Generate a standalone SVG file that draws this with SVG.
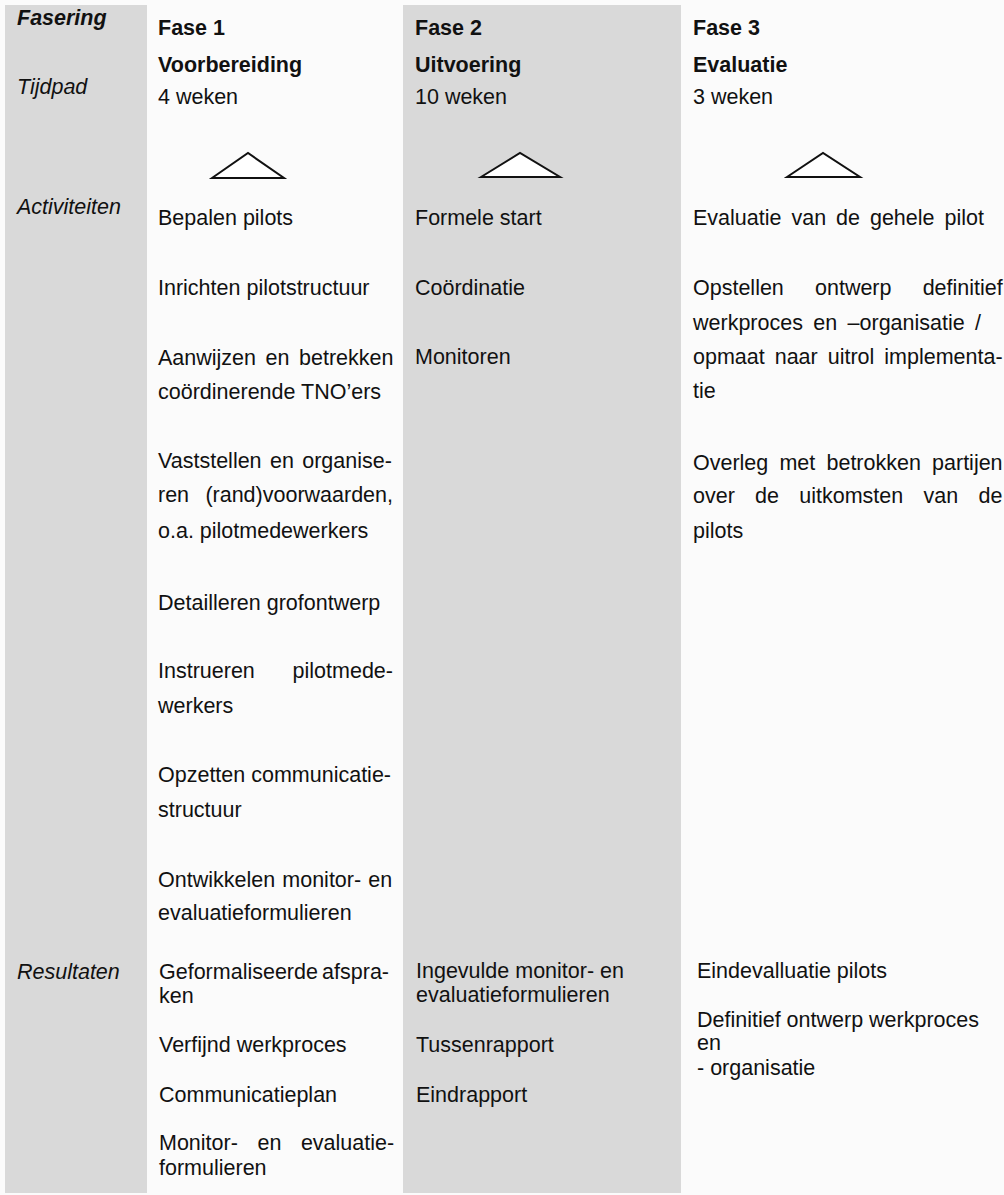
<svg xmlns="http://www.w3.org/2000/svg" width="1004" height="1195" viewBox="0 0 1004 1195">
  <style>
    text { font-family: "Liberation Sans", Arial, sans-serif; font-size: 21.5px; fill: #111111; }
    .b { font-weight: bold; }
    .i { font-style: italic; }
    .bi { font-style: italic; font-weight: bold; }
    .band { fill: #d9d9d9; }
    .tri { fill: #ffffff; stroke: #111111; stroke-width: 2; stroke-linejoin: miter; }
  </style>

  <!-- page and shaded column bands -->
  <rect x="0" y="0" width="1004" height="1195" fill="#fbfbfb"/>
  <rect class="band" x="5" y="5" width="142" height="1188"/>
  <rect class="band" x="403" y="5" width="278" height="1188"/>

  <!-- row labels -->
  <g id="labels">
    <text class="bi" x="17" y="25">Fasering</text>
    <text class="i" x="17" y="94">Tijdpad</text>
    <text class="i" x="17" y="214">Activiteiten</text>
    <text class="i" x="17" y="979">Resultaten</text>
  </g>

  <!-- phase 1 -->
  <g id="fase1">
    <g id="fase1-head">
      <text class="b" x="158" y="35">Fase 1</text>
      <text class="b" x="158" y="72">Voorbereiding</text>
      <text x="158" y="104">4 weken</text>
      <polygon class="tri" points="212,178 248,153 284,178"/>
    </g>
    <g id="fase1-activiteiten">
      <text x="158" y="225">Bepalen pilots</text>
      <text x="158" y="295">Inrichten pilotstructuur</text>
      <text x="158" y="365" word-spacing="3.6">Aanwijzen en betrekken</text>
      <text x="158" y="399">coördinerende TNO’ers</text>
      <text x="158" y="468" word-spacing="2.4">Vaststellen en organise-</text>
      <text x="158" y="502">ren</text>
      <text x="393" y="502" text-anchor="end">(rand)voorwaarden,</text>
      <text x="158" y="538">o.a. pilotmedewerkers</text>
      <text x="158" y="610">Detailleren grofontwerp</text>
      <text x="158" y="678">Instrueren</text>
      <text x="393" y="678" text-anchor="end">pilotmede-</text>
      <text x="158" y="713">werkers</text>
      <text x="158" y="782">Opzetten</text>
      <text x="391" y="782" text-anchor="end">communicatie-</text>
      <text x="158" y="817">structuur</text>
      <text x="158" y="887" word-spacing="1.2">Ontwikkelen monitor- en</text>
      <text x="158" y="920">evaluatieformulieren</text>
    </g>
    <g id="fase1-resultaten">
      <text x="159" y="979">Geformaliseerde</text>
      <text x="389" y="979" text-anchor="end">afspra-</text>
      <text x="159" y="1003">ken</text>
      <text x="159" y="1052">Verfijnd werkproces</text>
      <text x="159" y="1102">Communicatieplan</text>
      <text x="159" y="1150" word-spacing="13.6">Monitor- en evaluatie-</text>
      <text x="159" y="1175">formulieren</text>
    </g>
  </g>

  <!-- phase 2 -->
  <g id="fase2">
    <g id="fase2-head">
      <text class="b" x="415" y="35">Fase 2</text>
      <text class="b" x="415" y="72">Uitvoering</text>
      <text x="415" y="104">10 weken</text>
      <polygon class="tri" points="481,177 520,153 560,177"/>
    </g>
    <g id="fase2-activiteiten">
      <text x="415" y="225">Formele start</text>
      <text x="415" y="295">Coördinatie</text>
      <text x="415" y="364">Monitoren</text>
    </g>
    <g id="fase2-resultaten">
      <text x="416" y="978">Ingevulde monitor- en</text>
      <text x="416" y="1002">evaluatieformulieren</text>
      <text x="416" y="1052">Tussenrapport</text>
      <text x="416" y="1102">Eindrapport</text>
    </g>
  </g>

  <!-- phase 3 -->
  <g id="fase3">
    <g id="fase3-head">
      <text class="b" x="693" y="35">Fase 3</text>
      <text class="b" x="693" y="72">Evaluatie</text>
      <text x="693" y="104">3 weken</text>
      <polygon class="tri" points="787,177 823,153 860,177"/>
    </g>
    <g id="fase3-activiteiten">
      <text x="693" y="225" word-spacing="4">Evaluatie van de gehele pilot</text>
      <text x="693" y="295" word-spacing="25.2">Opstellen ontwerp definitief</text>
      <text x="693" y="330" word-spacing="4.4">werkproces en –organisatie /</text>
      <text x="693" y="364" word-spacing="4.0">opmaat naar uitrol implementa-</text>
      <text x="693" y="398">tie</text>
      <text x="693" y="470" word-spacing="5.2">Overleg met betrokken partijen</text>
      <text x="693" y="503" word-spacing="14.3">over de uitkomsten van de</text>
      <text x="693" y="538">pilots</text>
    </g>
    <g id="fase3-resultaten">
      <text x="697" y="978">Eindevalluatie pilots</text>
      <text x="697" y="1027">Definitief ontwerp werkproces</text>
      <text x="697" y="1050">en</text>
      <text x="697" y="1075">- organisatie</text>
    </g>
  </g>
</svg>
